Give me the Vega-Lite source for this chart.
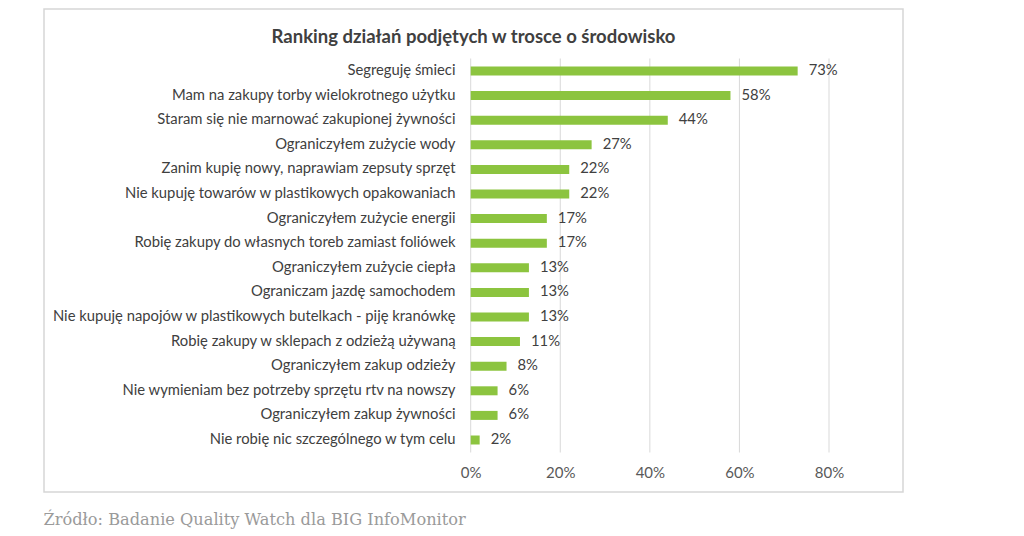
{
  "$schema": "https://vega.github.io/schema/vega-lite/v6.json",
  "width": 859,
  "height": 483,
  "autosize": {"type": "none"},
  "padding": {"left": 44, "top": 9, "right": 121, "bottom": 44},
  "background": "white",
  "config": {"view": {"stroke": "#d6d6d6", "strokeWidth": 1.5}, "font": "Lato"},
  "title": {
    "text": "Ranking działań podjętych w trosce o środowisko",
    "font": "Lato",
    "fontSize": 18.5,
    "fontWeight": "bold",
    "color": "#404040",
    "anchor": "middle",
    "offset": -37
  },
  "datasets": {
    "actions": [
      {"label": "Segreguję śmieci", "value": 0.73},
      {"label": "Mam na zakupy torby wielokrotnego użytku", "value": 0.58},
      {"label": "Staram się nie marnować zakupionej żywności", "value": 0.44},
      {"label": "Ograniczyłem zużycie wody", "value": 0.27},
      {"label": "Zanim kupię nowy, naprawiam zepsuty sprzęt", "value": 0.22},
      {"label": "Nie kupuję towarów w plastikowych opakowaniach", "value": 0.22},
      {"label": "Ograniczyłem zużycie energii", "value": 0.17},
      {"label": "Robię zakupy do własnych toreb zamiast foliówek", "value": 0.17},
      {"label": "Ograniczyłem zużycie ciepła", "value": 0.13},
      {"label": "Ograniczam jazdę samochodem", "value": 0.13},
      {"label": "Nie kupuję napojów w plastikowych butelkach - piję kranówkę", "value": 0.13},
      {"label": "Robię zakupy w sklepach z odzieżą używaną", "value": 0.11},
      {"label": "Ograniczyłem zakup odzieży", "value": 0.08},
      {"label": "Nie wymieniam bez potrzeby sprzętu rtv na nowszy", "value": 0.06},
      {"label": "Ograniczyłem zakup żywności", "value": 0.06},
      {"label": "Nie robię nic szczególnego w tym celu", "value": 0.02}
    ],
    "grid": [{"v": 0}, {"v": 0.2}, {"v": 0.4}, {"v": 0.6}, {"v": 0.8}]
  },
  "layer": [
    {
      "data": {"name": "grid"},
      "mark": {"type": "rule", "color": "#d9d9d9", "strokeWidth": 1, "yOffset": -8, "y2Offset": 8},
      "encoding": {
        "x": {"field": "v", "type": "quantitative"},
        "y": {"datum": "Segreguję śmieci", "type": "nominal", "bandPosition": 0},
        "y2": {"datum": "Nie robię nic szczególnego w tym celu", "bandPosition": 1}
      }
    },
    {
      "data": {"name": "actions"},
      "mark": {"type": "bar", "color": "#8CC43F"},
      "encoding": {
        "x": {
          "field": "value",
          "type": "quantitative",
          "scale": {"domain": [-0.9527, 0.9652], "nice": false, "zero": false},
          "axis": {
            "values": [0, 0.2, 0.4, 0.6, 0.8],
            "format": ".0%",
            "domain": false,
            "ticks": false,
            "grid": false,
            "offset": -29,
            "labelPadding": 2,
            "labelFont": "Lato",
            "labelFontSize": 15,
            "labelColor": "#595959",
            "title": "Źródło: Badanie Quality Watch dla BIG InfoMonitor",
            "titleFont": "DejaVu Serif",
            "titleFontWeight": "normal",
            "titleFontSize": 16.2,
            "titleColor": "#9a9a9a",
            "titleAnchor": "start",
            "titleAlign": "left",
            "titleX": -1,
            "titleY": 56,
            "titleBaseline": "middle"
          }
        },
        "y": {
          "field": "label",
          "type": "nominal",
          "sort": null,
          "scale": {
            "domain": [
              "Segreguję śmieci",
              "Mam na zakupy torby wielokrotnego użytku",
              "Staram się nie marnować zakupionej żywności",
              "Ograniczyłem zużycie wody",
              "Zanim kupię nowy, naprawiam zepsuty sprzęt",
              "Nie kupuję towarów w plastikowych opakowaniach",
              "Ograniczyłem zużycie energii",
              "Robię zakupy do własnych toreb zamiast foliówek",
              "Ograniczyłem zużycie ciepła",
              "Ograniczam jazdę samochodem",
              "Nie kupuję napojów w plastikowych butelkach - piję kranówkę",
              "Robię zakupy w sklepach z odzieżą używaną",
              "Ograniczyłem zakup odzieży",
              "Nie wymieniam bez potrzeby sprzętu rtv na nowszy",
              "Ograniczyłem zakup żywności",
              "Nie robię nic szczególnego w tym celu"
            ],
            "range": [49.7, 443.3],
            "paddingInner": 0.634,
            "paddingOuter": 0.317
          },
          "axis": {
            "orient": "left",
            "offset": -413,
            "domain": false,
            "ticks": false,
            "labelPadding": 2,
            "labelLimit": 0,
            "labelFont": "Lato",
            "labelFontSize": 14.8,
            "labelColor": "#404040",
            "title": null
          }
        }
      }
    },
    {
      "data": {"name": "actions"},
      "mark": {"type": "text", "align": "left", "baseline": "middle", "dx": 11, "fontSize": 14.8, "font": "Lato", "color": "#404040"},
      "encoding": {
        "x": {"field": "value", "type": "quantitative"},
        "y": {"field": "label", "type": "nominal", "sort": null},
        "text": {"field": "value", "type": "quantitative", "format": ".0%"}
      }
    }
  ]
}
